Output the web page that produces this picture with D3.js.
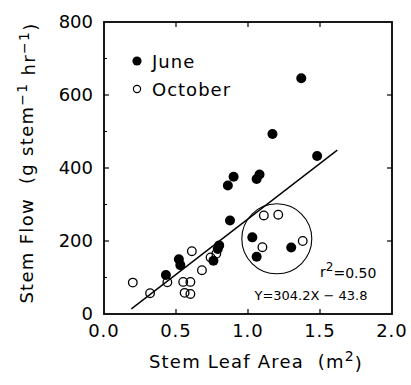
<!DOCTYPE html>
<html>
<head>
<meta charset="utf-8">
<script src="https://cdn.jsdelivr.net/npm/d3@7"></script>
<style>
  body { margin: 0; background: #fff; }
  svg { display: block; font-family: "DejaVu Sans", sans-serif; }
  text { white-space: pre; }
</style>
</head>
<body>
<svg></svg>
<script>
var width = 411, height = 385;
var margin = {top: 22, right: 19, bottom: 71, left: 104};

// values
var juneX = [0.43, 0.52, 0.53, 0.76, 0.79, 0.80, 0.86, 0.90, 0.875, 1.03, 1.06, 1.06, 1.08, 1.17, 1.30, 1.37, 1.48];
var juneY = [107, 150, 134, 146, 178, 188, 352, 376, 256, 210, 157, 370, 382, 493, 182, 646, 433];
var octX = [0.20, 0.32, 0.44, 0.55, 0.60, 0.56, 0.60, 0.61, 0.68, 0.74, 0.78, 1.10, 1.11, 1.21, 1.38];
var octY = [86, 57, 87, 88, 88, 58, 55, 172, 120, 155, 165, 183, 270, 272, 200];
var xTicks = [0, 0.5, 1.0, 1.5, 2.0];
var yTicks = [0, 200, 400, 600, 800];
var yMinorTicks = [100, 300, 500, 700];
var fitSlope = 304.2, fitIntercept = -43.8;
var fitRange = [0.19, 1.62];
var circleCenter = [1.20, 206], circleRadius = 0.243;

var svg = d3.select("svg").attr("width", width).attr("height", height);

var x = d3.scaleLinear().domain([0, 2]).range([margin.left, width - margin.right]);
var y = d3.scaleLinear().domain([0, 800]).range([height - margin.bottom, margin.top]);

function zip(xs, ys) {
    return xs.map(function(v, i) { return [v, ys[i]]; });
}

// frame
svg.append("rect")
    .attr("x", x(0)).attr("y", y(800))
    .attr("width", x(2) - x(0)).attr("height", y(0) - y(800))
    .attr("fill", "none").attr("stroke", "#000").attr("stroke-width", 1.8);

// inward ticks on all four sides
var tickLen = 5;
[0.5, 1.0, 1.5].forEach(function(t) {
    svg.append("line").attr("x1", x(t)).attr("x2", x(t)).attr("y1", y(0)).attr("y2", y(0) - tickLen).attr("stroke", "#000").attr("stroke-width", 1.2);
    svg.append("line").attr("x1", x(t)).attr("x2", x(t)).attr("y1", y(800)).attr("y2", y(800) + tickLen).attr("stroke", "#000").attr("stroke-width", 1.2);
});
[200, 400, 600].forEach(function(t) {
    svg.append("line").attr("x1", x(0)).attr("x2", x(0) + tickLen).attr("y1", y(t)).attr("y2", y(t)).attr("stroke", "#000").attr("stroke-width", 1.2);
    svg.append("line").attr("x1", x(2)).attr("x2", x(2) - tickLen).attr("y1", y(t)).attr("y2", y(t)).attr("stroke", "#000").attr("stroke-width", 1.2);
});
yMinorTicks.forEach(function(t) {
    svg.append("line").attr("x1", x(0)).attr("x2", x(0) + 3).attr("y1", y(t)).attr("y2", y(t)).attr("stroke", "#000").attr("stroke-width", 1);
});

// tick labels
svg.append("g").selectAll("text")
    .data(xTicks).enter().append("text")
    .attr("x", function(d) { return x(d); })
    .attr("y", y(0) + 23)
    .attr("text-anchor", "middle")
    .style("font-size", "18px")
    .style("letter-spacing", "1px")
    .text(function(d) { return d3.format(".1f")(d); });

svg.append("g").selectAll("text")
    .data(yTicks).enter().append("text")
    .attr("x", x(0) - 11)
    .attr("y", function(d) { return y(d); })
    .attr("dy", "0.36em")
    .attr("text-anchor", "end")
    .style("font-size", "18px")
    .text(function(d) { return d; });

// axis titles
var xTitle = svg.append("text")
    .attr("x", 256).attr("y", 368)
    .attr("text-anchor", "middle")
    .style("font-size", "18px")
    .style("letter-spacing", "1.2px");
xTitle.append("tspan").text("Stem Leaf Area  (m");
xTitle.append("tspan").attr("dy", "-0.5em").style("font-size", "14px").text("2");
xTitle.append("tspan").attr("dy", "0.5em").text(")");

var yTitle = svg.append("text")
    .attr("transform", "translate(33," + 163 + ") rotate(-90)")
    .attr("text-anchor", "middle")
    .style("font-size", "18px")
    .style("letter-spacing", "1.3px");
yTitle.append("tspan").text("Stem Flow  (g stem");
yTitle.append("tspan").attr("dy", "-0.45em").style("font-size", "14px").text("\u22121");
yTitle.append("tspan").attr("dy", "0.45em").text(" hr");
yTitle.append("tspan").attr("dy", "-0.45em").style("font-size", "14px").text("\u22121");
yTitle.append("tspan").attr("dy", "0.45em").text(")");

// regression line
svg.append("line")
    .attr("x1", x(fitRange[0])).attr("y1", y(fitSlope * fitRange[0] + fitIntercept))
    .attr("x2", x(fitRange[1])).attr("y2", y(fitSlope * fitRange[1] + fitIntercept))
    .attr("stroke", "#000").attr("stroke-width", 1.4);

// highlight circle
svg.append("circle")
    .attr("cx", x(circleCenter[0])).attr("cy", y(circleCenter[1]))
    .attr("r", x(circleRadius) - x(0))
    .attr("fill", "none").attr("stroke", "#000").attr("stroke-width", 1.1);

// October (open)
svg.append("g").selectAll("circle")
    .data(zip(octX, octY)).enter().append("circle")
    .attr("cx", function(d) { return x(d[0]); })
    .attr("cy", function(d) { return y(d[1]); })
    .attr("r", 4.3)
    .attr("fill", "none").attr("stroke", "#000").attr("stroke-width", 1.3);

// June (filled)
svg.append("g").selectAll("circle")
    .data(zip(juneX, juneY)).enter().append("circle")
    .attr("cx", function(d) { return x(d[0]); })
    .attr("cy", function(d) { return y(d[1]); })
    .attr("r", 5)
    .attr("fill", "#000");

// legend
svg.append("circle").attr("cx", 137).attr("cy", 61).attr("r", 4.6).attr("fill", "#000");
svg.append("text").attr("x", 152).attr("y", 68).style("font-size", "18px").style("letter-spacing", "1px").text("June");
svg.append("circle").attr("cx", 137).attr("cy", 89).attr("r", 3.6).attr("fill", "none").attr("stroke", "#000").attr("stroke-width", 1.2);
svg.append("text").attr("x", 152).attr("y", 96).style("font-size", "18px").style("letter-spacing", "1px").text("October");

// fit annotation
var r2 = svg.append("text").attr("x", 320).attr("y", 277).style("font-size", "14px");
r2.append("tspan").text("r");
r2.append("tspan").attr("dy", "-0.5em").style("font-size", "12px").text("2");
r2.append("tspan").attr("dy", "0.5em").text("=0.50");
svg.append("text").attr("x", 311).attr("y", 300)
    .attr("text-anchor", "middle")
    .style("font-size", "13px")
    .text("Y=304.2X \u2212 43.8");
</script>
</body>
</html>
